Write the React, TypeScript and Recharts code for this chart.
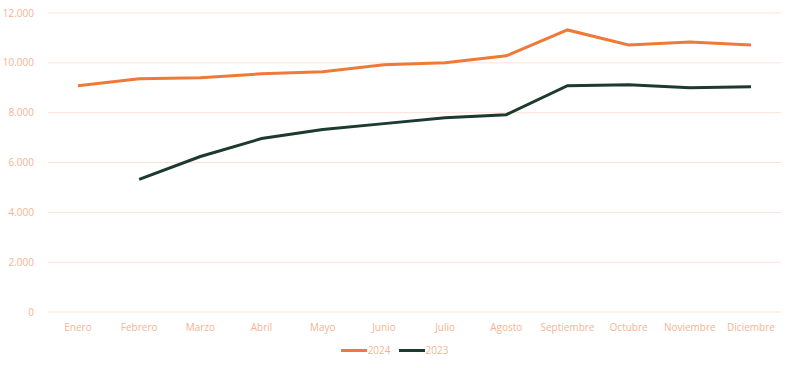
import { CartesianGrid, Legend, Line, LineChart, XAxis, YAxis } from "recharts";

const months = [
  "Enero", "Febrero", "Marzo", "Abril", "Mayo", "Junio",
  "Julio", "Agosto", "Septiembre", "Octubre", "Noviembre", "Diciembre",
];
const serie2024 = [9080, 9360, 9400, 9560, 9640, 9920, 10000, 10280, 11320, 10720, 10840, 10720];
const serie2023 = [null, 5320, 6240, 6960, 7320, 7560, 7800, 7920, 9080, 9120, 9000, 9040];
const yTicks = [0, 2000, 4000, 6000, 8000, 10000, 12000];

const data = months.map((m, i) => ({ mes: m, "2024": serie2024[i], "2023": serie2023[i] }));

const labelColor = "#f4b493";
const colors: Record<string, string> = { "2024": "#ef7a38", "2023": "#1c3a2e" };
const fmt = (v: number) => v.toLocaleString("de-DE");

const LegendBox = () => (
  <div style={{ display: "flex", justifyContent: "center", gap: 8, fontSize: 10, color: labelColor, marginTop: 7, paddingLeft: 8 }}>
    {["2024", "2023"].map((k) => (
      <div key={k} style={{ display: "flex", alignItems: "center" }}>
        <span style={{ display: "inline-block", width: 26, height: 3, background: colors[k], marginRight: 1 }} />
        <span>{k}</span>
      </div>
    ))}
  </div>
);

export default function App() {
  return (
    <div style={{ position: "absolute", left: 0, top: 0, background: "#fff", fontFamily: "'Open Sans', sans-serif" }}>
      <LineChart width={794} height={368} data={data} margin={{ top: 13, right: 13, bottom: 8, left: 0 }}>
        <CartesianGrid vertical={false} stroke="#fbe3d8" />
        <XAxis
          dataKey="mes"
          axisLine={false}
          tickLine={false}
          tick={{ fontSize: 10, fill: labelColor }}
          tickMargin={6}
          height={24}
          interval={0}
          padding={{ left: 30, right: 30 }}
        />
        <YAxis
          domain={[0, 12000]}
          ticks={yTicks}
          width={48}
          axisLine={false}
          tickLine={false}
          tick={{ fontSize: 10, fill: labelColor }}
          tickFormatter={fmt}
          tickMargin={8}
        />
        <Legend height={24} content={<LegendBox />} />
        <Line dataKey="2024" stroke={colors["2024"]} strokeWidth={3} dot={false} isAnimationActive={false} />
        <Line dataKey="2023" stroke={colors["2023"]} strokeWidth={3} dot={false} isAnimationActive={false} />
      </LineChart>
    </div>
  );
}
